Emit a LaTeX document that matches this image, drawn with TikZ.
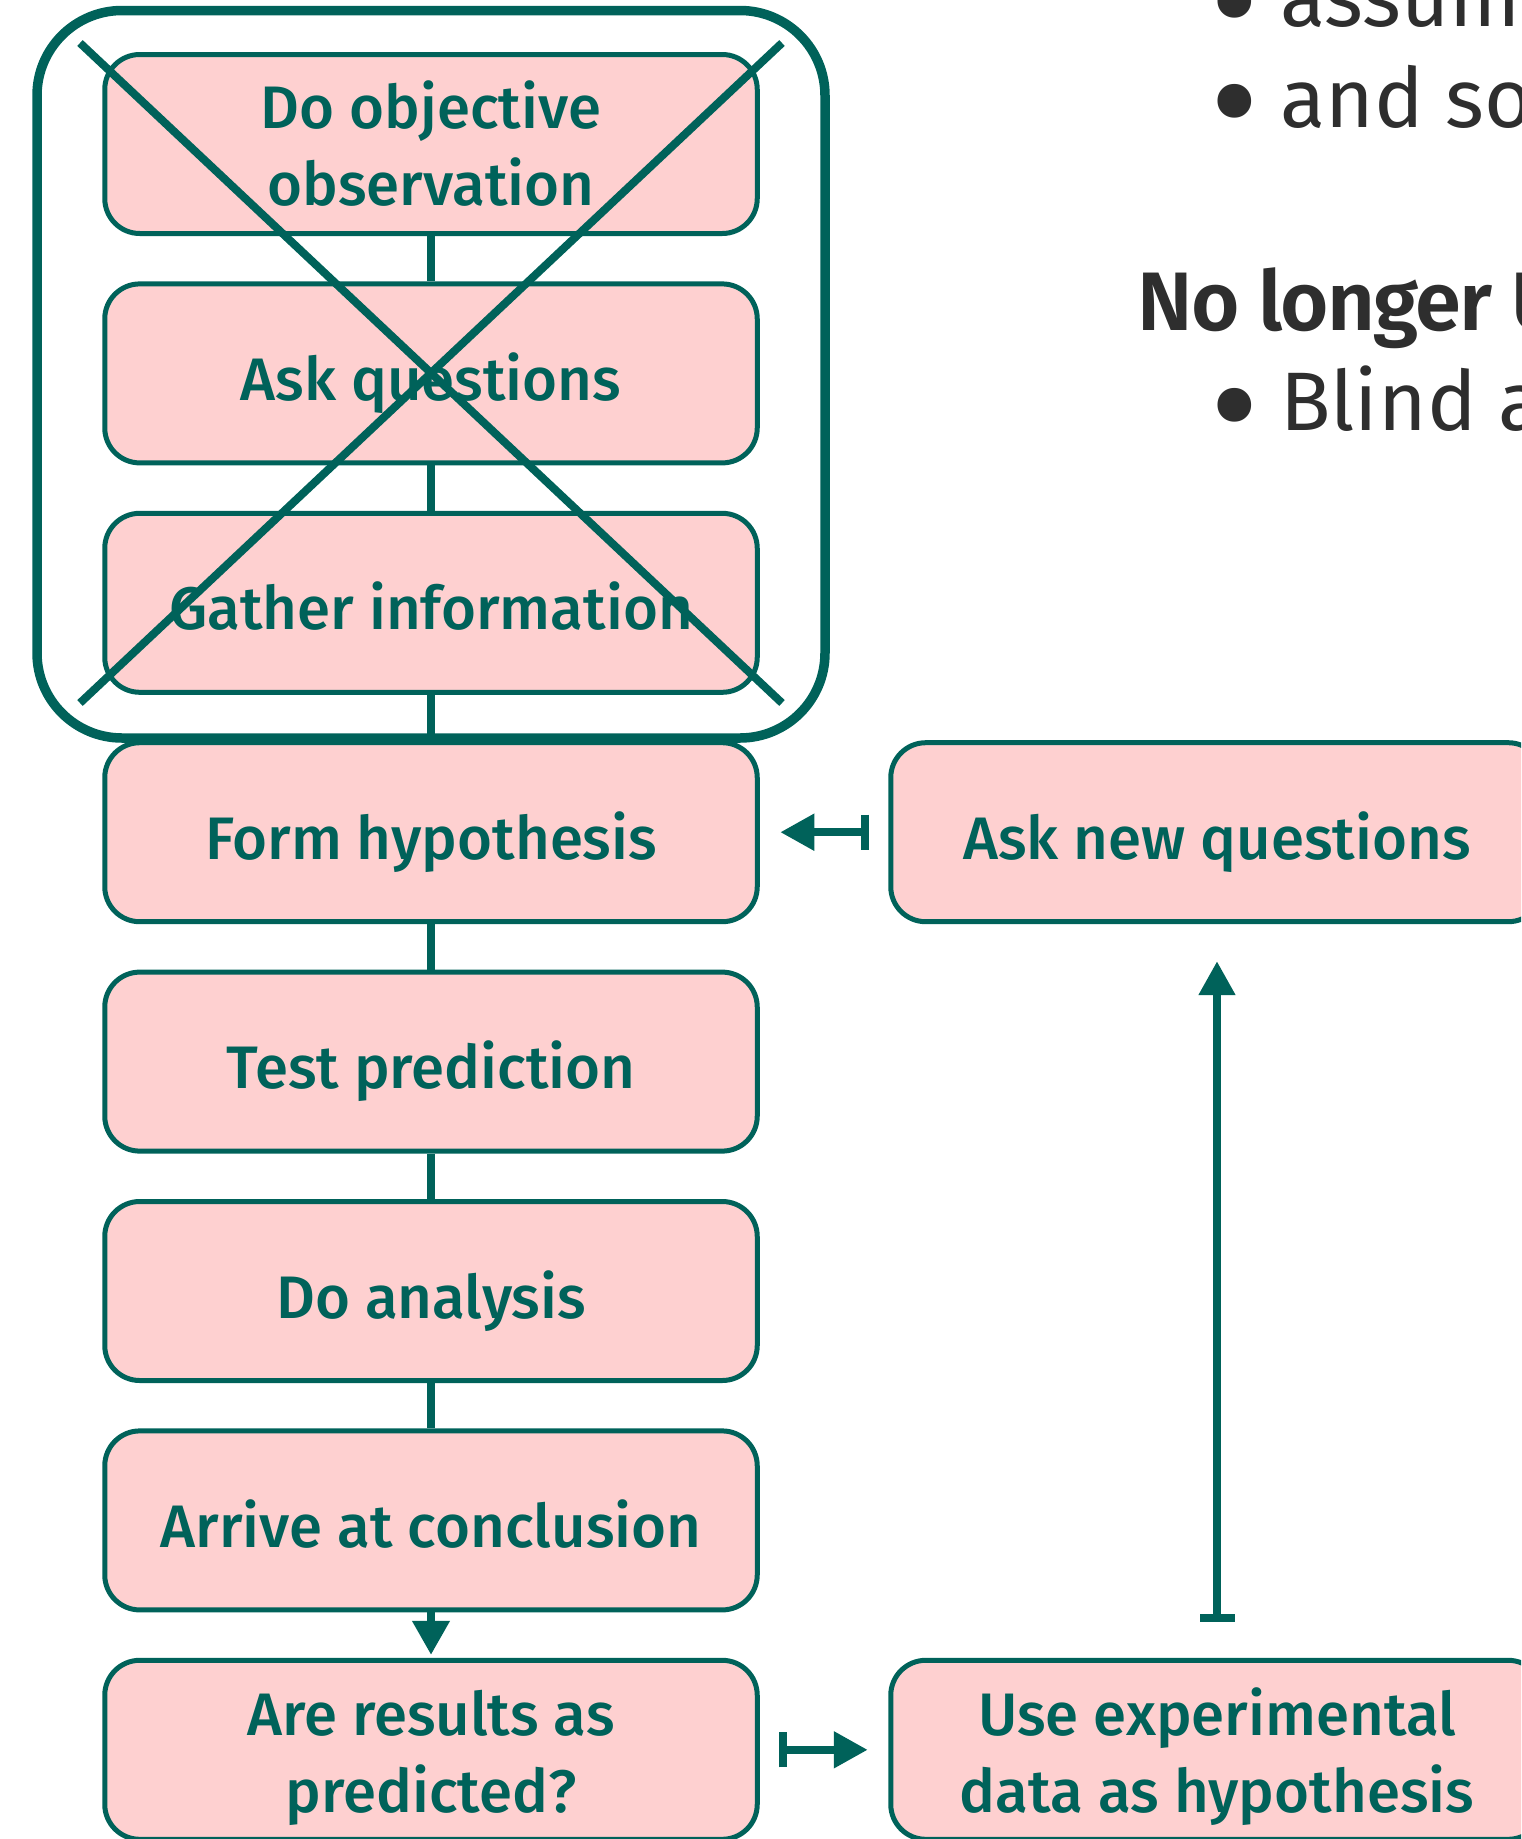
\documentclass[tikz,border=0pt]{standalone}
\usepackage{fontspec}
\setmainfont{Fira Sans}
\newfontfamily\boxfont{Fira Sans Medium}
\newfontfamily\headfont{Fira Sans SemiBold}[LetterSpace=-2.0]
\usetikzlibrary{arrows.meta}

\definecolor{deepteal}{HTML}{00625A}
\definecolor{boxpink}{HTML}{FED0D0}
\definecolor{inkgray}{HTML}{2E2E2E}
% taller first line pushes a two-line label a little lower in its box
\newcommand\firstlinestrut{\rule{0pt}{62pt}}

\begin{document}
\begin{tikzpicture}[x=1pt,y=-1pt,
  stepbox/.style={draw=deepteal, line width=5pt, fill=boxpink,
    rounded corners=35pt, minimum width=652.5pt, minimum height=179pt,
    inner sep=0pt, text=deepteal, align=center,
    font=\boxfont\fontsize{60}{77}\selectfont},
  oneline/.style={text height=54pt, text depth=0pt},
  link/.style={draw=deepteal, line width=7.5pt},
  downarrow/.style={draw=deepteal, line width=7.5pt,
    -{Triangle[length=34pt,width=36pt]}},
  bararrow/.style={draw=deepteal, line width=8pt,
    {Bar[width=35pt]}-{Triangle[length=34pt,width=35pt]}},
  crossline/.style={draw=deepteal, line width=8pt},
  groupframe/.style={draw=deepteal, line width=9.5pt, rounded corners=85pt,
    minimum width=788pt, minimum height=727.5pt, inner sep=0pt},
  bodytext/.style={text=inkgray, anchor=base west, inner sep=0pt,
    font=\fontsize{83}{100}\selectfont},
  bullet/.style={text=inkgray, inner sep=0pt,
    font=\fontsize{150}{150}\selectfont},
  headtext/.style={text=inkgray, anchor=base west, inner sep=0pt,
    font=\headfont\fontsize{83}{100}\selectfont},
]
\useasboundingbox (0,0) rectangle (1521,1839);
\clip (0,0) rectangle (1521,1839);

% main column of steps
\node[stepbox] (obs)    at (431,144)    {Do objective\\observation};
\node[stepbox, oneline] (askq)   at (431,373.4)  {Ask questions};
\node[stepbox, oneline] (gather) at (431,602.8)  {Gather information};
\node[stepbox, oneline] (form)   at (431,832.2)  {Form hypothesis};
\node[stepbox, oneline] (test)   at (431,1061.6) {Test prediction};
\node[stepbox, oneline] (anal)   at (431,1291)   {Do analysis};
\node[stepbox, oneline] (concl)  at (431,1520.4) {Arrive at conclusion};
\node[stepbox] (result) at (431,1749.8) {\firstlinestrut Are results as\\predicted?};

% side column
\node[stepbox, oneline] (asknew) at (1217,832.2)  {Ask new questions};
\node[stepbox] (usedat) at (1217,1749.8) {\firstlinestrut Use experimental\\data as hypothesis};

% links between steps
\draw[link] (obs.south) -- (askq.north);
\draw[link] (askq.south) -- (gather.north);
\draw[link] (gather.south) -- (form.north);
\draw[link] (form.south) -- (test.north);
\draw[link] (test.south) -- (anal.north);
\draw[link] (anal.south) -- (concl.north);
\draw[downarrow, shorten >=3pt] (concl.south) -- (result.north);

% feedback loop
\draw[bararrow, shorten <=19.5pt, shorten >=20.5pt] (result.east) -- (usedat.west);
\draw[bararrow, shorten <=36pt, shorten >=37pt] (usedat.north) -- (asknew.south);
\draw[bararrow, shorten <=19.5pt, shorten >=20.5pt] (asknew.west) -- (form.east);

% frame around the first three steps, struck through
\node[groupframe] (group) at (431,374.25) {};
\coordinate (xtl) at (80,43);
\coordinate (xbr) at (782,703);
\coordinate (xtr) at (782,43);
\coordinate (xbl) at (80,703);
\draw[crossline] (xtl) -- (xbr);
\draw[crossline] (xtr) -- (xbl);

% notes on the right
\node[bullet] (b1) at (1235,18) {•};
\node[bodytext] (l1) at (1280,27) {assumi};
\node[bullet] (b2) at (1235,118) {•};
\node[bodytext] (l2) at (1280,127) {and som};
\node[headtext] (h1) at (1137,330) {No longer U};
\node[bullet] (b3) at (1235,422) {•};
\node[bodytext] (l3) at (1280,430) {Blind a};
\end{tikzpicture}
\end{document}
